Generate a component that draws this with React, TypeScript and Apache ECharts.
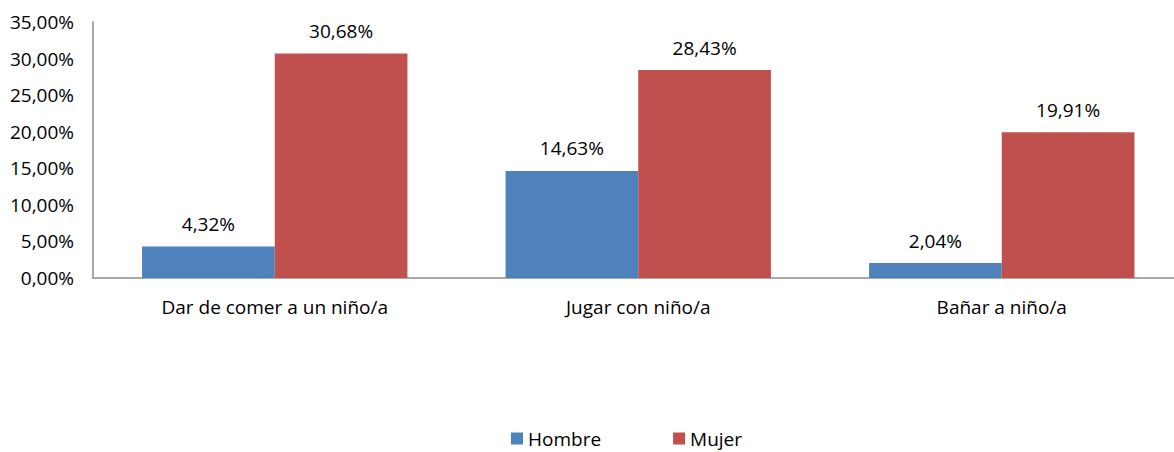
import React, { useEffect, useRef } from "react";
import * as echarts from "echarts";

const categories = ["Dar de comer a un niño/a", "Jugar con niño/a", "Bañar a niño/a"];
const hombre = [4.32, 14.63, 2.04];
const mujer = [30.68, 28.43, 19.91];
const seriesNames = ["Hombre", "Mujer"];

const FONT = "'Open Sans', sans-serif";
const FS = 19;
const fmt = (v: number) => v.toFixed(2).replace(".", ",") + "%";

export default function App() {
  const ref = useRef<HTMLDivElement>(null);
  useEffect(() => {
    if (!ref.current) return;
    const chart = echarts.init(ref.current, null, { renderer: "svg" });
    chart.setOption({
      animation: false,
      backgroundColor: "#ffffff",
      textStyle: { fontFamily: FONT },
      grid: { left: 93, top: 22, width: 1090.5, height: 256, containLabel: false },
      legend: {
        top: 429,
        left: 511,
        padding: 0,
        itemWidth: 12,
        itemHeight: 12,
        itemGap: 72,
        icon: "rect",
        textStyle: { fontFamily: FONT, fontSize: FS, color: "#000" },
        data: seriesNames,
      },
      xAxis: {
        type: "category",
        data: categories,
        axisLine: { lineStyle: { color: "#8c8c8c", width: 1.5 } },
        axisTick: { show: false },
        axisLabel: { color: "#000", fontFamily: FONT, fontSize: FS, margin: 19 },
      },
      yAxis: {
        type: "value",
        min: 0,
        max: 35,
        interval: 5,
        splitLine: { show: false },
        axisLine: { show: true, lineStyle: { color: "#8c8c8c", width: 1.5 } },
        axisTick: { show: false },
        axisLabel: {
          color: "#000",
          fontFamily: FONT,
          fontSize: FS,
          margin: 19,
          formatter: (v: number) => fmt(v),
        },
      },
      series: [
        {
          name: seriesNames[0],
          type: "bar",
          data: hombre,
          barGap: "0%",
          barCategoryGap: "27%",
          itemStyle: { color: "#4F81BD" },
          label: {
            show: true,
            position: "top",
            distance: 13,
            color: "#000",
            fontFamily: FONT,
            fontSize: FS,
            formatter: (p: any) => fmt(p.value),
          },
        },
        {
          name: seriesNames[1],
          type: "bar",
          data: mujer,
          barGap: "0%",
          barCategoryGap: "27%",
          itemStyle: { color: "#C0504D" },
          label: {
            show: true,
            position: "top",
            distance: 13,
            color: "#000",
            fontFamily: FONT,
            fontSize: FS,
            formatter: (p: any) => fmt(p.value),
          },
        },
      ],
    });
    return () => chart.dispose();
  }, []);
  return (
    <div
      style={{ position: "fixed", left: 0, top: 0, width: 1174, height: 452, overflow: "hidden", background: "#fff" }}
    >
      <div ref={ref} style={{ width: 1200, height: 452 }} />
    </div>
  );
}
